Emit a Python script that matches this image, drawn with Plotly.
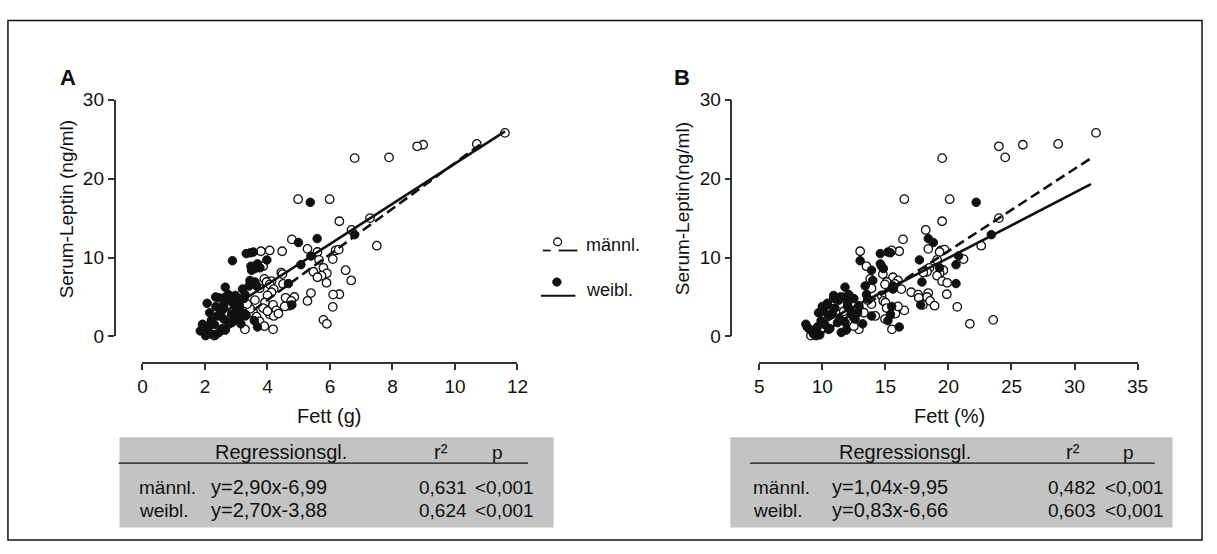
import plotly.graph_objects as go

W, H = 1217, 554


def px(x):
    return x / W


def py(y):
    return 1 - y / H


# ---------------- data ----------------
# male (open circles): leptin (ng/ml), fat (g), fat (%)
male_leptin = [25.8, 24.4, 24.3, 24.1, 22.7, 22.6, 17.4, 17.4, 15.0, 14.6, 13.5, 12.3, 11.5, 11.1, 10.9,
               11.0, 10.7, 10.8, 10.8, 10.9, 9.8, 9.7, 8.9, 8.7, 8.4, 8.2, 8.1, 8.0, 7.9, 7.7, 7.5, 7.3,
               7.1, 7.0, 6.9, 6.8, 6.65, 6.6, 6.0, 5.6, 5.5, 5.35, 5.3, 5.2, 5.0, 4.9, 4.5, 4.5, 4.3,
               4.0, 3.9, 3.75, 3.6, 3.3, 2.8, 2.2, 2.1, 1.6, 0.9, 0.9, 0.1, 3.0, 2.5, 3.5, 4.1, 2.6,
               1.9, 3.2, 4.6, 6.1, 1.3, 2.9, 3.8]
male_fat_g = [11.6, 10.7, 8.98, 8.79, 7.89, 6.79, 4.98, 5.99, 7.28, 6.30, 6.69, 4.78, 7.50, 5.28, 6.18,
              6.28, 5.60, 4.47, 3.79, 4.07, 6.09, 5.65, 3.86, 5.79, 6.50, 5.47, 4.44, 5.90, 4.48, 5.73,
              5.60, 3.90, 6.68, 4.13, 3.97, 5.89, 4.50, 4.07, 4.20, 4.13, 5.39, 6.30, 6.10, 4.00, 4.86,
              4.58, 5.28, 4.76, 3.92, 4.18, 4.70, 6.09, 3.86, 4.28, 4.07, 3.60, 5.79, 5.90, 4.18, 3.28,
              2.30, 3.55, 3.65, 3.45, 3.35, 4.20, 3.75, 4.00, 3.60, 3.75, 3.90, 4.35, 4.55]
male_fat_pct = [31.7, 28.7, 25.9, 24.0, 24.5, 19.5, 16.5, 20.1, 24.0, 19.5, 18.2, 16.4, 22.6, 18.4, 19.4,
                19.7, 19.3, 16.1, 13.0, 15.5, 21.2, 19.1, 13.5, 18.5, 19.6, 18.3, 18.0, 19.3, 14.8, 19.1,
                15.6, 13.8, 16.0, 19.5, 15.1, 19.9, 15.75, 14.97, 16.27, 17.05, 18.4, 19.87, 17.6, 14.7,
                18.3, 17.65, 18.54, 14.84, 15.0, 17.97, 18.9, 20.7, 15.1, 16.5, 15.49, 14.97, 23.55,
                21.7, 15.52, 12.9, 9.1, 13.3, 12.4, 12.8, 13.9, 14.2, 12.1, 11.7, 13.6, 13.9, 12.5,
                15.8, 16.0]

# female (filled circles): leptin (ng/ml), fat (g), fat (%)
female_leptin = [17.0, 12.9, 12.4, 11.9, 10.2, 10.5, 10.7, 10.6, 9.6, 9.7, 9.2, 8.9, 9.1, 8.4, 8.7, 8.6,
                 7.1, 6.9, 6.7, 6.4, 6.4, 6.25, 6.0, 5.3, 5.0, 5.0, 4.8, 5.2, 4.8, 4.2, 4.0, 3.8, 2.8,
                 2.0, 1.2, 0.7, 1.55, 0.1, 0.2, 0.9, 1.75, 2.6, 3.8, 3.2, 4.0, 1.2, 2.0, 1.5, 2.6, 3.0,
                 3.6, 4.6, 5.0, 4.2, 3.4, 2.4, 3.0, 0.5, 1.0, 1.8, 2.2, 1.6, 0.3, 0.9, 1.2, 3.8, 2.2,
                 2.8, 3.9, 4.8, 4.9, 5.3, 2.6, 3.0, 0.8]
female_fat_g = [5.37, 6.79, 5.59, 4.99, 5.39, 3.32, 3.55, 3.45, 2.88, 3.98, 3.68, 3.47, 5.07, 3.49, 3.76,
                3.60, 3.44, 3.60, 4.67, 3.65, 3.41, 2.65, 3.20, 3.28, 2.34, 2.65, 2.81, 2.97, 3.05, 2.07,
                4.78, 3.10, 3.30, 3.58, 3.68, 1.85, 1.92, 2.02, 2.34, 2.65, 2.86, 3.02, 3.07, 2.50, 2.60,
                2.10, 2.20, 2.30, 2.40, 2.50, 2.60, 2.70, 2.80, 2.90, 3.00, 3.10, 3.20, 2.45, 2.55, 2.75,
                2.95, 3.15, 2.20, 2.05, 1.95, 2.35, 2.60, 2.85, 3.05, 3.25, 2.45, 2.75, 3.30, 2.15, 2.65]
female_fat_pct = [22.2, 23.4, 18.4, 18.8, 20.8, 14.6, 15.2, 15.4, 13.0, 17.7, 14.6, 14.7, 20.6, 13.9, 19.3,
                  14.84, 14.0, 17.9, 20.6, 15.6, 13.4, 11.8, 15.6, 13.5, 11.4, 12.0, 12.5, 10.9, 11.0,
                  10.4, 17.8, 15.5, 15.4, 15.2, 16.1, 9.5, 8.7, 9.5, 9.8, 10.5, 11.2, 12.5, 12.0, 10.1,
                  10.4, 9.6, 9.9, 10.2, 10.5, 10.8, 11.0, 11.3, 11.6, 12.0, 12.2, 12.5, 12.8, 11.5, 10.6,
                  11.8, 12.6, 13.2, 9.3, 9.0, 8.8, 10.0, 11.4, 12.3, 12.9, 13.6, 10.9, 12.1, 13.9, 9.7,
                  11.9]

# regression lines (end points)
regA_male_x, regA_male_y = [2.4, 10.8], [0.0, 24.3]
regA_female_x, regA_female_y = [2.0, 11.6], [1.5, 26.0]
regB_male_x, regB_male_y = [9.6, 31.5], [0.0, 22.8]
regB_female_x, regB_female_y = [8.7, 31.3], [0.6, 19.3]

# tick values
xticksA = [0, 2, 4, 6, 8, 10, 12]
xticksB = [5, 10, 15, 20, 25, 30, 35]
yticks = [0, 10, 20, 30]

# table texts
tableA = [["männl.", "y=2,90x-6,99", "0,631", "<0,001"],
          ["weibl.", "y=2,70x-3,88", "0,624", "<0,001"]]
tableB = [["männl.", "y=1,04x-9,95", "0,482", "<0,001"],
          ["weibl.", "y=0,83x-6,66", "0,603", "<0,001"]]

# ---------------- figure ----------------
FONT = "Liberation Sans, Arial, sans-serif"
INK = "#111111"
fig = go.Figure()

open_marker = dict(symbol="circle", size=8.5, color="white", line=dict(color=INK, width=1.3))
fill_marker = dict(symbol="circle", size=8.5, color=INK, line=dict(color=INK, width=1))

for xa, ya, mx, fx, rmx, rmy, rfx, rfy in [
    ("x", "y", male_fat_g, female_fat_g, regA_male_x, regA_male_y, regA_female_x, regA_female_y),
    ("x2", "y2", male_fat_pct, female_fat_pct, regB_male_x, regB_male_y, regB_female_x, regB_female_y),
]:
    fig.add_trace(go.Scatter(x=mx, y=male_leptin, mode="markers", marker=open_marker,
                             xaxis=xa, yaxis=ya, cliponaxis=False, showlegend=False, hoverinfo="skip"))
    fig.add_trace(go.Scatter(x=fx, y=female_leptin, mode="markers", marker=fill_marker,
                             xaxis=xa, yaxis=ya, cliponaxis=False, showlegend=False, hoverinfo="skip"))
    fig.add_trace(go.Scatter(x=rmx, y=rmy, mode="lines", line=dict(color=INK, width=2.6, dash="10px,5px"),
                             xaxis=xa, yaxis=ya, showlegend=False, hoverinfo="skip"))
    fig.add_trace(go.Scatter(x=rfx, y=rfy, mode="lines", line=dict(color=INK, width=2.6),
                             xaxis=xa, yaxis=ya, showlegend=False, hoverinfo="skip"))

ydom = [py(339.3), py(93.3)]
axis_common = dict(showline=True, linecolor="#333333", linewidth=1.5, ticks="outside", ticklen=6,
                   tickwidth=1.5, tickcolor="#333333", showgrid=False, zeroline=False,
                   tickfont=dict(family=FONT, size=19, color=INK), anchor="free")

fig.update_layout(
    width=W, height=H, autosize=False,
    margin=dict(l=0, r=0, t=0, b=0),
    paper_bgcolor="white", plot_bgcolor="rgba(0,0,0,0)",
    xaxis=dict(axis_common, domain=[px(139.3), px(519.3)], range=[0, 12], tickvals=xticksA,
               position=py(367)),
    yaxis=dict(axis_common, domain=ydom, range=[0, 30], tickvals=yticks, position=px(111)),
    xaxis2=dict(axis_common, domain=[px(764.3), px(1147.7)], range=[5, 35], tickvals=xticksB,
                position=py(367)),
    yaxis2=dict(axis_common, domain=ydom, range=[0, 30], tickvals=yticks, position=px(736)),
)

ann = []


def text(t, x, y, size=19, xanchor="center", bold=False, angle=0):
    ann.append(dict(text=f"<b>{t}</b>" if bold else t, x=px(x), y=py(y), xref="paper", yref="paper",
                    showarrow=False, xanchor=xanchor, yanchor="middle", textangle=angle,
                    font=dict(family=FONT, size=size, color=INK)))


# panel letters
text("A", 64, 70, size=22, bold=True)
text("B", 686, 70, size=22, bold=True)
# axis titles
text("Serum-Leptin (ng/ml)", 62, 207, size=19, angle=-90)
text("Serum-Leptin(ng/ml)", 686, 206, size=19, angle=-90)
text("Fett (g)", 328, 422, size=20)
text("Fett (%)", 957, 422, size=20)
# legend
text("männl.", 587, 244, size=18, xanchor="left")
text("weibl.", 587, 291, size=18, xanchor="left")

shapes = []
# outer frame
shapes.append(dict(type="rect", xref="paper", yref="paper", x0=px(3), x1=px(1213), y0=py(551), y1=py(11),
                   line=dict(color=INK, width=1.5), fillcolor="rgba(0,0,0,0)", layer="below"))
# legend symbols
for x0, x1 in [(545, 553), (561, 580)]:
    shapes.append(dict(type="line", xref="paper", yref="paper", x0=px(x0), x1=px(x1), y0=py(250), y1=py(250),
                       line=dict(color=INK, width=1.8)))
shapes.append(dict(type="line", xref="paper", yref="paper", x0=px(543), x1=px(578), y0=py(297), y1=py(297),
                   line=dict(color=INK, width=1.8)))
shapes.append(dict(type="circle", xref="paper", yref="paper", x0=px(556), x1=px(564), y0=py(245), y1=py(237),
                   line=dict(color=INK, width=1.3), fillcolor="white"))
shapes.append(dict(type="circle", xref="paper", yref="paper", x0=px(555), x1=px(563.5), y0=py(287), y1=py(278.5),
                   line=dict(color=INK, width=1), fillcolor=INK))

# tables
for (bx0, bx1, ux0, ux1, hdr, r2x, px_, lab_x, eq_x, r2_r, p_r, rows) in [
    (116, 556, 115, 530, 280, 442, 499, 134, 207, 470, 538, tableA),
    (735, 1183, 755, 1165, 912, 1082, 1138, 756, 836, 1108, 1176, tableB),
]:
    shapes.append(dict(type="rect", xref="paper", yref="paper", x0=px(bx0), x1=px(bx1), y0=py(538), y1=py(444),
                       line=dict(width=0), fillcolor="#c3c3c3", layer="below"))
    shapes.append(dict(type="line", xref="paper", yref="paper", x0=px(ux0), x1=px(ux1), y0=py(471), y1=py(471),
                       line=dict(color=INK, width=1.3)))
    text("Regressionsgl.", hdr, 459, size=20)
    text("r\u00b2", r2x, 459, size=20)
    text("p", px_, 460, size=19)
    for row, yy in zip(rows, [496, 520]):
        text(row[0], lab_x, yy, xanchor="left", size=19)
        text(row[1], eq_x, yy, xanchor="left", size=20)
        text(row[2], r2_r, yy, xanchor="right", size=19)
        text(row[3], p_r, yy, xanchor="right", size=19)

fig.update_layout(annotations=ann, shapes=shapes)
fig.write_html("out.html")
